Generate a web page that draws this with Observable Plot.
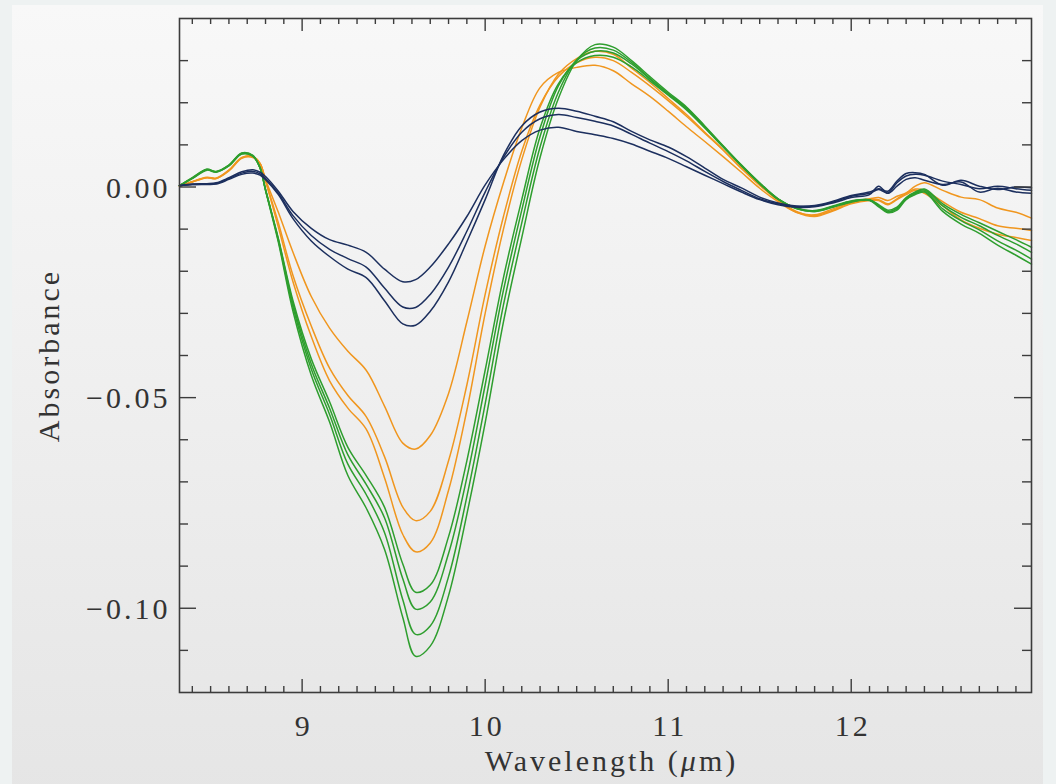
<!DOCTYPE html>
<html>
<head>
<meta charset="utf-8">
<script src="https://cdn.jsdelivr.net/npm/d3@7"></script>
<script src="https://cdn.jsdelivr.net/npm/@observablehq/plot@0.6"></script>
<style>
  html, body { margin: 0; padding: 0; width: 1056px; height: 784px; overflow: hidden; background: #eef2f2; }
  #panel { position: absolute; left: 12px; top: 5px; width: 1031px; height: 800px;
           background: linear-gradient(#f8f8f8, #e5e5e5); }
  #chart { position: absolute; left: 0; top: 0; }
</style>
</head>
<body>
<div id="panel"></div>
<div id="chart"></div>
<script>
// Wavelength grid (µm)
const wavelength = [8.33, 8.40, 8.48, 8.53, 8.60, 8.67, 8.73, 8.77, 8.80,
  8.87, 8.95, 9.05, 9.15, 9.25, 9.35, 9.45, 9.55, 9.62, 9.70, 9.80, 9.90,
  10.00, 10.10, 10.20, 10.30, 10.40, 10.50, 10.60, 10.70, 10.80, 10.90, 11.00, 11.10,
  11.20, 11.30, 11.40, 11.50, 11.60, 11.70, 11.80, 11.90, 12.00, 12.10,
  12.15, 12.20, 12.25, 12.30, 12.35, 12.40, 12.50, 12.60, 12.70, 12.80, 12.90, 12.985];

// Navy series
const navy1 = [0.0003, 0.0007, 0.0008, 0.0010, 0.0022, 0.0036, 0.0041, 0.0035, 0.0025,
  -0.0010, -0.0058, -0.0098, -0.0125, -0.0138, -0.0155, -0.0195, -0.0225, -0.0220, -0.0190, -0.0135, -0.0070,
  0.0005, 0.0065, 0.0110, 0.0135, 0.0142, 0.0132, 0.0124, 0.0115, 0.0102, 0.0085, 0.0068, 0.0048,
  0.0028, 0.0008, -0.0012, -0.0030, -0.0042, -0.0048, -0.0047, -0.0038, -0.0025, -0.0018,
  0.0002, -0.0015, 0.0002, 0.0018, 0.0022, 0.0016, 0.0006, 0.0012, -0.0012, -0.0003, -0.0012, -0.0015];
const navy2 = [0.0003, 0.0006, 0.0007, 0.0008, 0.0020, 0.0033, 0.0037, 0.0031, 0.0020,
  -0.0015, -0.0068, -0.0115, -0.0148, -0.0170, -0.0190, -0.0240, -0.0285, -0.0286, -0.0255, -0.0190, -0.0105,
  -0.0012, 0.0070, 0.0130, 0.0162, 0.0172, 0.0165, 0.0156, 0.0145, 0.0125, 0.0104, 0.0084, 0.0062,
  0.0037, 0.0013, -0.0008, -0.0028, -0.0040, -0.0046, -0.0045, -0.0036, -0.0022, -0.0015,
  -0.0006, -0.0014, 0.0010, 0.0026, 0.0030, 0.0028, 0.0014, 0.0006, -0.0004, 0.0002, -0.0004, -0.0008];
const navy3 = [0.0003, 0.0006, 0.0006, 0.0007, 0.0018, 0.0030, 0.0033, 0.0028, 0.0017,
  -0.0018, -0.0075, -0.0128, -0.0165, -0.0195, -0.0215, -0.0270, -0.0325, -0.0328, -0.0295, -0.0225, -0.0130,
  -0.0030, 0.0075, 0.0145, 0.0178, 0.0187, 0.0180, 0.0168, 0.0155, 0.0132, 0.0112, 0.0095, 0.0072,
  0.0045, 0.0018, -0.0002, -0.0024, -0.0038, -0.0045, -0.0044, -0.0034, -0.0020, -0.0012,
  -0.0004, -0.0010, 0.0014, 0.0032, 0.0034, 0.0030, 0.0004, 0.0016, 0.0002, -0.0006, 0.0000, -0.0002];

// Orange series
const orange1 = [0.0002, 0.0012, 0.0022, 0.0020, 0.0038, 0.0068, 0.0070, 0.0055, 0.0018,
  -0.0060, -0.0155, -0.0260, -0.0335, -0.0390, -0.0435, -0.0520, -0.0608, -0.0622, -0.0590, -0.0490, -0.0320,
  -0.0140, 0.0010, 0.0140, 0.0236, 0.0272, 0.0284, 0.0289, 0.0276, 0.0245, 0.0215, 0.0180, 0.0143,
  0.0108, 0.0072, 0.0035, -0.0003, -0.0035, -0.0060, -0.0066, -0.0052, -0.0036, -0.0028,
  -0.0025, -0.0032, -0.0022, -0.0014, 0.0002, 0.0010, -0.0008, -0.0024, -0.0030, -0.0050, -0.0060, -0.0074];
const orange2 = [0.0002, 0.0012, 0.0022, 0.0020, 0.0040, 0.0069, 0.0072, 0.0056, 0.0015,
  -0.0085, -0.0210, -0.0330, -0.0430, -0.0495, -0.0545, -0.0640, -0.0760, -0.0792, -0.0770, -0.0650, -0.0470,
  -0.0255, -0.0070, 0.0085, 0.0195, 0.0262, 0.0295, 0.0308, 0.0300, 0.0272, 0.0240, 0.0205, 0.0168,
  0.0128, 0.0088, 0.0045, 0.0005, -0.0030, -0.0058, -0.0068, -0.0055, -0.0038, -0.0030,
  -0.0030, -0.0040, -0.0028, -0.0015, -0.0005, -0.0008, -0.0035, -0.0060, -0.0075, -0.0092, -0.0098, -0.0103];
const orange3 = [0.0002, 0.0013, 0.0023, 0.0021, 0.0040, 0.0070, 0.0073, 0.0056, 0.0014,
  -0.0095, -0.0225, -0.0355, -0.0460, -0.0525, -0.0575, -0.0690, -0.0825, -0.0866, -0.0845, -0.0720, -0.0530,
  -0.0300, -0.0100, 0.0065, 0.0190, 0.0268, 0.0305, 0.0322, 0.0315, 0.0282, 0.0248, 0.0210, 0.0172,
  0.0130, 0.0088, 0.0044, 0.0004, -0.0032, -0.0060, -0.0070, -0.0057, -0.0040, -0.0032,
  -0.0032, -0.0042, -0.0030, -0.0018, -0.0008, -0.0015, -0.0045, -0.0078, -0.0098, -0.0112, -0.0120, -0.0127];

// Green series
const green1 = [0.0003, 0.0020, 0.0040, 0.0035, 0.0050, 0.0078, 0.0073, 0.0046, -0.0006,
  -0.0122, -0.0270, -0.0408, -0.0510, -0.0618, -0.0685, -0.0760, -0.0895, -0.0962, -0.0945, -0.0830, -0.0650,
  -0.0435, -0.0215, -0.0030, 0.0140, 0.0245, 0.0295, 0.0312, 0.0308, 0.0285, 0.0252, 0.0218, 0.0183,
  0.0140, 0.0095, 0.0050, 0.0008, -0.0028, -0.0050, -0.0056, -0.0045, -0.0033, -0.0030,
  -0.0042, -0.0055, -0.0048, -0.0025, -0.0012, -0.0005, -0.0040, -0.0065, -0.0085, -0.0105, -0.0125, -0.0143];
const green2 = [0.0003, 0.0021, 0.0041, 0.0036, 0.0051, 0.0079, 0.0074, 0.0046, -0.0006,
  -0.0124, -0.0277, -0.0420, -0.0525, -0.0636, -0.0706, -0.0785, -0.0930, -0.1002, -0.0985, -0.0870, -0.0690,
  -0.0470, -0.0245, -0.0055, 0.0120, 0.0240, 0.0300, 0.0322, 0.0318, 0.0292, 0.0256, 0.0220, 0.0186,
  0.0142, 0.0096, 0.0051, 0.0008, -0.0029, -0.0051, -0.0057, -0.0046, -0.0034, -0.0031,
  -0.0044, -0.0058, -0.0050, -0.0027, -0.0014, -0.0007, -0.0045, -0.0072, -0.0092, -0.0115, -0.0135, -0.0155];
const green3 = [0.0003, 0.0021, 0.0042, 0.0036, 0.0052, 0.0080, 0.0075, 0.0045, -0.0007,
  -0.0127, -0.0285, -0.0432, -0.0540, -0.0658, -0.0730, -0.0820, -0.0980, -0.1062, -0.1042, -0.0925, -0.0735,
  -0.0515, -0.0280, -0.0085, 0.0095, 0.0225, 0.0302, 0.0330, 0.0325, 0.0296, 0.0258, 0.0222, 0.0188,
  0.0143, 0.0097, 0.0052, 0.0009, -0.0029, -0.0051, -0.0058, -0.0047, -0.0035, -0.0031,
  -0.0045, -0.0059, -0.0052, -0.0028, -0.0016, -0.0010, -0.0052, -0.0080, -0.0102, -0.0128, -0.0150, -0.0171];
const green4 = [0.0003, 0.0022, 0.0042, 0.0037, 0.0052, 0.0081, 0.0075, 0.0045, -0.0008,
  -0.0131, -0.0295, -0.0447, -0.0558, -0.0685, -0.0762, -0.0860, -0.1022, -0.1114, -0.1090, -0.0970, -0.0777,
  -0.0560, -0.0320, -0.0120, 0.0070, 0.0210, 0.0300, 0.0338, 0.0332, 0.0300, 0.0262, 0.0225, 0.0190,
  0.0145, 0.0098, 0.0052, 0.0010, -0.0028, -0.0050, -0.0058, -0.0048, -0.0036, -0.0032,
  -0.0047, -0.0061, -0.0055, -0.0030, -0.0018, -0.0012, -0.0058, -0.0088, -0.0110, -0.0138, -0.0162, -0.0183];

// Axis ticks
const xMajor = [9, 10, 11, 12];
const xMinor = d3.range(84, 130).map(i => i / 10).filter(v => !Number.isInteger(v));
const yMajor = [0, -0.05, -0.10];
const yMinor = d3.range(-11, 4).map(i => i / 100).filter(v => Math.abs(v * 100 % 5) > 1e-9);

const seriesList = [
  {id: "o1", color: "#f0961e", values: orange1},
  {id: "o2", color: "#f0961e", values: orange2},
  {id: "o3", color: "#f0961e", values: orange3},
  {id: "g1", color: "#2e9e2e", values: green1},
  {id: "g2", color: "#2e9e2e", values: green2},
  {id: "g3", color: "#2e9e2e", values: green3},
  {id: "g4", color: "#2e9e2e", values: green4},
  {id: "n1", color: "#1c2f5e", values: navy1},
  {id: "n2", color: "#1c2f5e", values: navy2},
  {id: "n3", color: "#1c2f5e", values: navy3}
];
const rows = seriesList.flatMap(s => s.values.map((v, i) => ({id: s.id, color: s.color, w: wavelength[i], a: v})));

const W = 1056, H = 784, mt = 18, mr = 25, mb = 92, ml = 179;
const innerH = H - mt - mb, innerW = W - ml - mr;
const axisColor = "#3c3c3c";
const fmt = d3.format(".2f");

const chart = Plot.plot({
  width: W, height: H,
  marginTop: mt, marginRight: mr, marginBottom: mb, marginLeft: ml,
  style: {background: "transparent", fontFamily: "'Liberation Serif', serif", fontSize: "30px", letterSpacing: "3px", color: "#333"},
  x: {domain: [8.33, 12.985], axis: null},
  y: {domain: [-0.12, 0.04], axis: null},
  color: {type: "identity"},
  marks: [
    Plot.line(rows, {x: "w", y: "a", z: "id", stroke: "color", strokeWidth: 1.5, curve: "catmull-rom"}),
    Plot.ruleX(xMinor, {x: d => d, stroke: axisColor, strokeWidth: 1.4, insetTop: innerH - 6}),
    Plot.ruleX(xMinor, {x: d => d, stroke: axisColor, strokeWidth: 1.4, insetBottom: innerH - 6}),
    Plot.ruleX(xMajor, {x: d => d, stroke: axisColor, strokeWidth: 1.4, insetTop: innerH - 13}),
    Plot.ruleX(xMajor, {x: d => d, stroke: axisColor, strokeWidth: 1.4, insetBottom: innerH - 13}),
    Plot.ruleY(yMinor, {y: d => d, stroke: axisColor, strokeWidth: 1.4, insetRight: innerW - 9}),
    Plot.ruleY(yMinor, {y: d => d, stroke: axisColor, strokeWidth: 1.4, insetLeft: innerW - 9}),
    Plot.ruleY(yMajor, {y: d => d, stroke: axisColor, strokeWidth: 1.4, insetRight: innerW - 17}),
    Plot.ruleY(yMajor, {y: d => d, stroke: axisColor, strokeWidth: 1.4, insetLeft: innerW - 17}),
    Plot.frame({stroke: axisColor, strokeWidth: 1.6}),
    Plot.text(xMajor, {x: d => d, text: d => String(d), frameAnchor: "bottom", lineAnchor: "bottom", dy: 43, dx: 1.5, fill: "#333"}),
    Plot.text(yMajor, {y: d => d, text: d => fmt(d), frameAnchor: "left", textAnchor: "end", lineAnchor: "middle", dx: -9, dy: 1, fill: "#333"}),
    Plot.text(["Wavelength (μm)"], {frameAnchor: "bottom", textAnchor: "middle", lineAnchor: "bottom", dy: 78, dx: 6, fill: "#333"}),
    Plot.text(["Absorbance"], {frameAnchor: "left", textAnchor: "middle", rotate: -90, lineAnchor: "bottom", dx: -121, dy: 0, fill: "#333"})
  ]
});
document.getElementById("chart").appendChild(chart);

// italic µ in the axis label
d3.select(chart).selectAll("text").filter(function() { return this.textContent === "Wavelength (μm)"; })
  .each(function() {
    const t = d3.select(this);
    t.text(null);
    t.append("tspan").text("Wavelength (");
    t.append("tspan").attr("font-style", "italic").text("μ");
    t.append("tspan").text("m)");
  });
</script>
</body>
</html>
